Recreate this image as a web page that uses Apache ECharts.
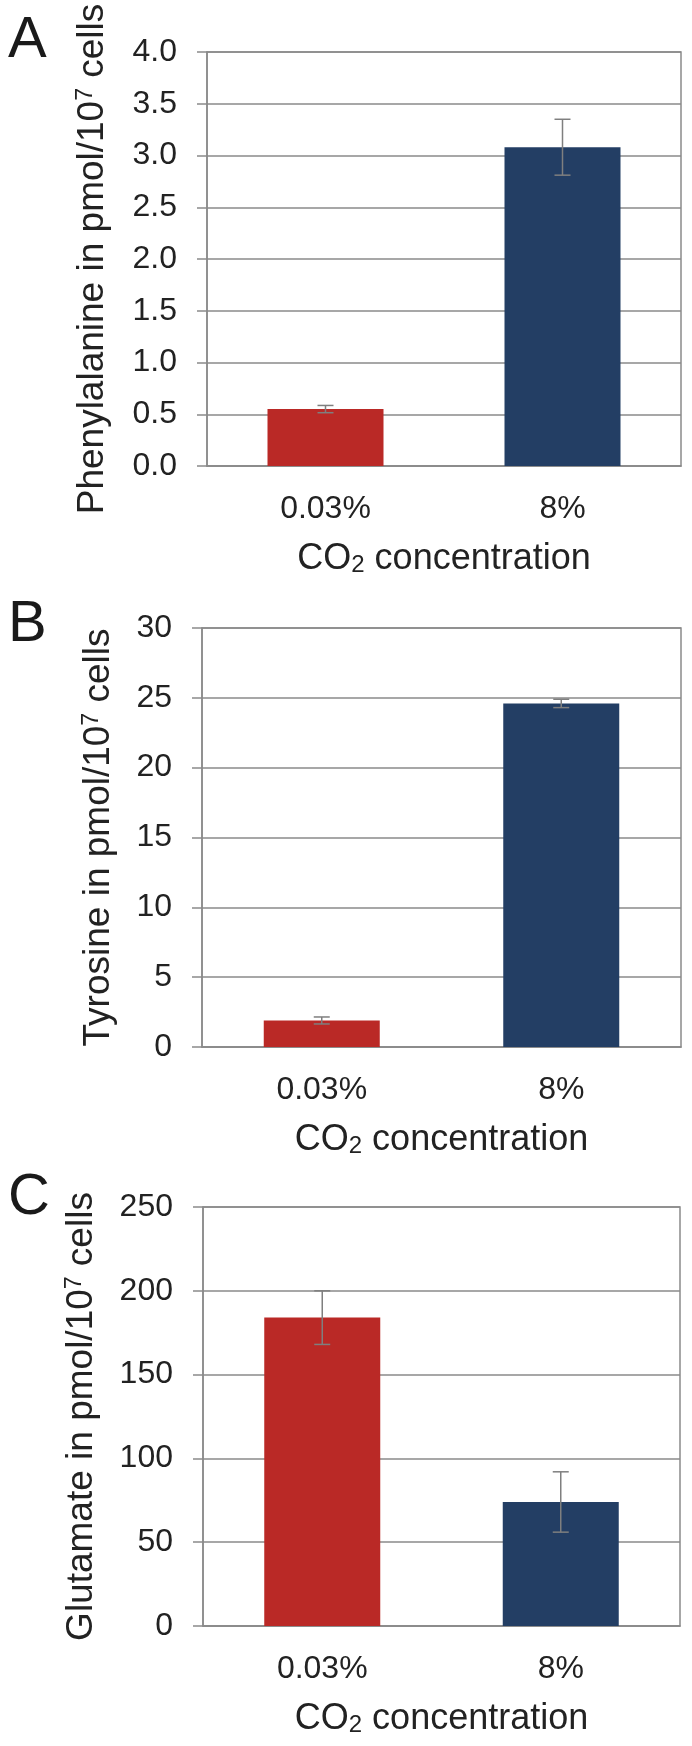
<!DOCTYPE html>
<html>
<head>
<meta charset="utf-8">
<script src="https://cdn.jsdelivr.net/npm/echarts@6/dist/echarts.min.js"></script>
<style>
  html, body { margin: 0; padding: 0; background: #fff; }
  #chart { width: 692px; height: 1746px; }
</style>
</head>
<body>
<div id="chart"></div>
<script>
// ---- data ----
const categories = ['0.03%', '8%'];
const barColors = ['#BA2926', '#233E64'];

const panelLetters = ['A', 'B', 'C'];

const pheValues = [0.55, 3.08];
const pheErrors = [0.035, 0.27];
const pheAxis = [0, 4, 0.5];   // min, max, interval

const tyrValues = [1.9, 24.6];
const tyrErrors = [0.25, 0.3];
const tyrAxis = [0, 30, 5];

const gluValues = [184, 74];
const gluErrors = [16, 18];
const gluAxis = [0, 250, 50];

const yNames = ['Phenylalanine', 'Tyrosine', 'Glutamate'];

// ---- layout ----
const FONT = "'Liberation Sans', Arial, Helvetica, sans-serif";
const gridPos = [
  { left: 207, top: 52, width: 474, height: 414, gap: 96 },
  { left: 202, top: 628, width: 479, height: 419, gap: 85 },
  { left: 203, top: 1207, width: 477, height: 419, gap: 103 }
];
const GRID_COLOR = '#8a8a8a';
const TEXT_COLOR = '#222222';

const panels = [
  { vals: pheValues, errs: pheErrors, ax: pheAxis, fmt: v => v.toFixed(1) },
  { vals: tyrValues, errs: tyrErrors, ax: tyrAxis, fmt: v => String(v) },
  { vals: gluValues, errs: gluErrors, ax: gluAxis, fmt: v => String(v) }
];

const grids = [], xAxes = [], yAxes = [], series = [];

panels.forEach((p, i) => {
  const g = gridPos[i];
  grids.push({
    left: g.left, top: g.top, width: g.width, height: g.height,
    show: true, borderColor: GRID_COLOR, borderWidth: 1.5, backgroundColor: '#fff'
  });
  xAxes.push({
    type: 'category', gridIndex: i, data: categories,
    axisLine: { show: true, lineStyle: { color: GRID_COLOR, width: 1.5 } },
    axisTick: { show: false },
    axisLabel: { margin: 27, fontSize: 32, color: TEXT_COLOR, fontFamily: FONT },
    name: 'CO{sub|2} concentration',
    nameLocation: 'middle', nameGap: 75,
    nameTextStyle: {
      fontSize: 36, color: TEXT_COLOR, fontFamily: FONT, lineHeight: 36,
      rich: { sub: { fontSize: 24, lineHeight: 14, verticalAlign: 'bottom', color: TEXT_COLOR, fontFamily: FONT } }
    }
  });
  yAxes.push({
    type: 'value', gridIndex: i, min: p.ax[0], max: p.ax[1], interval: p.ax[2],
    axisLine: { show: true, lineStyle: { color: GRID_COLOR, width: 1.5 } },
    axisTick: { show: true, inside: false, length: 10, lineStyle: { color: GRID_COLOR, width: 1.5 } },
    splitLine: { show: true, lineStyle: { color: GRID_COLOR, width: 1.5 } },
    axisLabel: { margin: 30, fontSize: 32, color: TEXT_COLOR, fontFamily: FONT, formatter: p.fmt },
    name: yNames[i] + ' in pmol/10{sup|7} cells',
    nameLocation: 'middle', nameGap: g.gap,
    nameTextStyle: {
      fontSize: 37, color: TEXT_COLOR, fontFamily: FONT, lineHeight: 37,
      rich: { sup: { fontSize: 23, lineHeight: 27, verticalAlign: 'top', color: TEXT_COLOR, fontFamily: FONT } }
    }
  });
  series.push({
    type: 'bar', xAxisIndex: i, yAxisIndex: i, data: p.vals, barWidth: 116,
    itemStyle: { color: params => barColors[params.dataIndex] },
    silent: true
  });
  series.push({
    type: 'custom', xAxisIndex: i, yAxisIndex: i, z: 10, silent: true,
    data: p.vals.map((v, k) => [k, v - p.errs[k], v + p.errs[k]]),
    renderItem: (params, api) => {
      const lo = api.coord([api.value(0), api.value(1)]);
      const hi = api.coord([api.value(0), api.value(2)]);
      const hw = 8;
      const st = { stroke: '#7f7f7f', lineWidth: 1.5 };
      return {
        type: 'group', children: [
          { type: 'line', shape: { x1: hi[0], y1: hi[1], x2: lo[0], y2: lo[1] }, style: st },
          { type: 'line', shape: { x1: hi[0] - hw, y1: hi[1], x2: hi[0] + hw, y2: hi[1] }, style: st },
          { type: 'line', shape: { x1: lo[0] - hw, y1: lo[1], x2: lo[0] + hw, y2: lo[1] }, style: st }
        ]
      };
    }
  });
});

const letterTops = [12, 596, 1169];
const graphics = panelLetters.map((t, i) => ({
  type: 'text', left: 8, top: letterTops[i],
  style: { text: t, fontSize: 58, fontFamily: FONT, fill: '#1a1a1a' }
}));

const chart = echarts.init(document.getElementById('chart'), null, { renderer: 'canvas' });
chart.setOption({
  animation: false,
  backgroundColor: '#ffffff',
  grid: grids,
  xAxis: xAxes,
  yAxis: yAxes,
  series: series,
  graphic: graphics
});
</script>
</body>
</html>
